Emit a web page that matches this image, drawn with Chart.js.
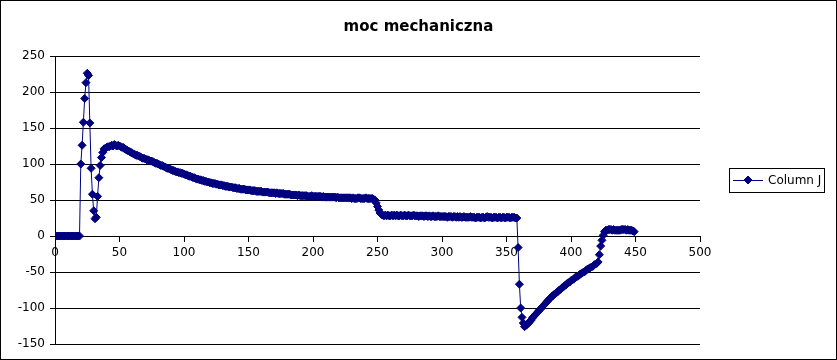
<!DOCTYPE html>
<html>
<head>
<meta charset="utf-8">
<title>moc mechaniczna</title>
<script src="https://cdn.jsdelivr.net/npm/chart.js@4.4.1/dist/chart.umd.min.js"></script>
<style>
  html, body { margin: 0; padding: 0; background: #fff; }
  #wrap { width: 837px; height: 360px; position: relative; }
</style>
</head>
<body>
<div id="wrap"><canvas id="chart" width="837" height="360"></canvas></div>
<script>
// ---- dane ----
const chartTitle = 'moc mechaniczna';
const seriesName = 'Column J';
const xTicks = [0, 50, 100, 150, 200, 250, 300, 350, 400, 450, 500];
const yTicks = [-150, -100, -50, 0, 50, 100, 150, 200, 250];

const xValues = [
  0,1,2,3,4,5,6,7,8,9,
  10,11,12,13,14,15,16,17,18,19,
  20,21,22,23,24,25,26,27,28,29,
  30,31,32,33,34,35,36,37,38,39,
  40,41,42,43,44,45,46,47,48,49,
  50,51,52,53,54,55,56,57,58,59,
  60,61,62,63,64,65,66,67,68,69,
  70,71,72,73,74,75,76,77,78,79,
  80,81,82,83,84,85,86,87,88,89,
  90,91,92,93,94,95,96,97,98,99,
  100,101,102,103,104,105,106,107,108,109,
  110,111,112,113,114,115,116,117,118,119,
  120,121,122,123,124,125,126,127,128,129,
  130,131,132,133,134,135,136,137,138,139,
  140,141,142,143,144,145,146,147,148,149,
  150,151,152,153,154,155,156,157,158,159,
  160,161,162,163,164,165,166,167,168,169,
  170,171,172,173,174,175,176,177,178,179,
  180,181,182,183,184,185,186,187,188,189,
  190,191,192,193,194,195,196,197,198,199,
  200,201,202,203,204,205,206,207,208,209,
  210,211,212,213,214,215,216,217,218,219,
  220,221,222,223,224,225,226,227,228,229,
  230,231,232,233,234,235,236,237,238,239,
  240,241,242,243,244,245,246,247,248,249,
  250,251,252,253,254,255,256,257,258,259,
  260,261,262,263,264,265,266,267,268,269,
  270,271,272,273,274,275,276,277,278,279,
  280,281,282,283,284,285,286,287,288,289,
  290,291,292,293,294,295,296,297,298,299,
  300,301,302,303,304,305,306,307,308,309,
  310,311,312,313,314,315,316,317,318,319,
  320,321,322,323,324,325,326,327,328,329,
  330,331,332,333,334,335,336,337,338,339,
  340,341,342,343,344,345,346,347,348,349,
  350,351,352,353,354,355,356,357,358,359,
  360,361,362,363,364,365,366,367,368,369,
  370,371,372,373,374,375,376,377,378,379,
  380,381,382,383,384,385,386,387,388,389,
  390,391,392,393,394,395,396,397,398,399,
  400,401,402,403,404,405,406,407,408,409,
  410,411,412,413,414,415,416,417,418,419,
  420,421,422,423,424,425,426,427,428,429,
  430,431,432,433,434,435,436,437,438,439,
  440,441,442,443,444,445,446,447,448,449
];

const yValues = [
  0,0,0,0,0,0,0,0,0,0,
  0,0,0,0,0,0,0,0,0,0,
  100,126,158,191,213,226,223,157,94,58,
  35,24,26,55,81,98,109,116,121,122,
  123,124,124,125,126,125,127,126,125,126,
  125,124,123,123,121,120,119,118,117,116,
  115,114,113,112,112,111,110,109,108,108,
  107,106,106,105,104,104,103,102,101,101,
  100,99,98,98,97,96,95,94,94,93,
  92,91,91,90,89,89,88,88,87,87,
  86,85,85,84,83,83,82,81,81,80,
  79,79,78,78,77,77,76,76,75,75,
  74,74,73,73,73,72,72,71,71,71,
  70,70,69,69,69,68,68,68,67,67,
  67,66,66,66,65,65,65,65,64,64,
  64,64,63,63,63,63,62,62,62,62,
  62,61,61,61,61,61,60,60,60,60,
  60,59,60,59,59,59,59,59,58,58,
  58,58,58,57,57,57,57,57,56,57,
  56,56,56,56,56,56,55,55,55,56,
  55,55,55,55,55,55,55,54,55,54,
  54,54,54,54,54,54,54,54,53,54,
  53,53,53,53,53,53,53,53,53,53,
  52,53,52,52,52,53,53,52,52,52,
  52,53,52,52,52,52,52,51,50,46,
  41,36,32,30,29,28,29,28,29,28,
  28,29,28,29,28,29,28,28,29,28,
  28,29,28,28,29,28,28,28,29,28,
  28,28,27,28,28,28,27,28,28,27,
  28,27,27,28,27,27,27,28,27,27,
  27,27,27,27,26,27,27,27,26,27,
  27,26,27,26,27,26,26,27,26,26,
  26,26,27,26,26,26,25,26,26,26,
  25,26,26,25,26,27,26,26,26,25,
  26,26,26,25,26,26,25,26,26,25,
  26,26,26,25,26,26,26,25,25,-16,
  -67,-100,-113,-121,-126,-124,-123,-121,-119,-117,
  -114,-112,-110,-108,-106,-104,-102,-100,-98,-96,
  -94,-92,-90,-88,-86,-84,-83,-81,-80,-78,
  -77,-75,-74,-72,-71,-69,-68,-66,-65,-64,
  -62,-61,-60,-58,-57,-56,-55,-53,-52,-51,
  -50,-49,-47,-46,-45,-44,-43,-42,-40,-39,
  -38,-36,-26,-14,-6,1,6,8,8,9,
  9,9,8,9,8,8,8,8,8,9,
  9,9,9,8,9,8,8,8,7,6
];

const lineColor = '#000080';
const fontFamily = '"DejaVu Sans", "Liberation Sans", sans-serif';

Chart.defaults.font.family = fontFamily;
Chart.defaults.color = '#000';

// ramka wokół całego wykresu
const framePlugin = {
    id: 'frame',
    afterDraw(chart) {
        const ctx = chart.ctx;
        ctx.save();
        ctx.strokeStyle = '#000';
        ctx.lineWidth = 1;
        ctx.strokeRect(0.5, 0.5, chart.width - 1, chart.height - 1);
        ctx.restore();
    }
};

// tytuł wyśrodkowany na całej szerokości (nie tylko nad obszarem wykresu)
const titlePlugin = {
    id: 'centerTitle',
    afterDraw(chart) {
        const ctx = chart.ctx;
        ctx.save();
        ctx.fillStyle = '#000';
        ctx.font = 'bold 15px ' + fontFamily;
        ctx.textAlign = 'center';
        ctx.textBaseline = 'middle';
        ctx.fillText(chartTitle, chart.width / 2, 27);
        ctx.restore();
    }
};

// legenda w ramce (linia + romb + tekst)
const legendBoxPlugin = {
    id: 'legendBox',
    afterDraw(chart) {
        const ctx = chart.ctx;
        const ds = chart.data.datasets[0];
        const left = chart.chartArea.right + 29;
        const cy = Math.round(chart.height / 2);
        const w = 95, h = 24;
        ctx.save();
        ctx.strokeStyle = '#000';
        ctx.lineWidth = 1;
        ctx.strokeRect(left + 0.5, cy - h / 2 + 0.5, w, h);

        ctx.strokeStyle = ds.borderColor;
        ctx.beginPath();
        ctx.moveTo(left + 4, cy + 0.5);
        ctx.lineTo(left + 34, cy + 0.5);
        ctx.stroke();

        const mx = left + 19, r = 4;
        ctx.fillStyle = ds.backgroundColor;
        ctx.beginPath();
        ctx.moveTo(mx, cy - r);
        ctx.lineTo(mx + r, cy);
        ctx.lineTo(mx, cy + r);
        ctx.lineTo(mx - r, cy);
        ctx.closePath();
        ctx.fill();
        ctx.stroke();

        ctx.fillStyle = '#000';
        ctx.font = '12px ' + fontFamily;
        ctx.textBaseline = 'middle';
        ctx.textAlign = 'left';
        ctx.fillText(ds.label, left + 39, cy + 1);
        ctx.restore();
    }
};

const points = xValues.map((x, i) => ({ x: x, y: yValues[i] }));

new Chart(document.getElementById('chart'), {
    type: 'scatter',
    data: {
        datasets: [{
            label: seriesName,
            data: points,
            showLine: true,
            borderColor: lineColor,
            backgroundColor: lineColor,
            borderWidth: 1,
            pointStyle: 'rectRot',
            pointRadius: 4,
            pointHoverRadius: 4,
            pointBorderWidth: 1,
            tension: 0
        }]
    },
    options: {
        responsive: false,
        animation: false,
        devicePixelRatio: 1,
        layout: { padding: { left: 0, right: 137, top: 56, bottom: 16 } },
        plugins: {
            legend: { display: false },
            tooltip: { enabled: false },
            title: { display: false }
        },
        scales: {
            x: {
                type: 'linear',
                position: { y: 0 },
                min: xTicks[0],
                max: xTicks[xTicks.length - 1],
                afterBuildTicks: s => { s.ticks = xTicks.map(v => ({ value: v })); },
                afterFit: s => { s.height = 0; },
                grid: { drawOnChartArea: false, drawTicks: true, tickLength: 5, color: '#000' },
                border: { display: true, color: '#000' },
                ticks: { color: '#000', font: { size: 12 }, padding: 5, maxRotation: 0 }
            },
            y: {
                min: yTicks[0],
                max: yTicks[yTicks.length - 1],
                afterBuildTicks: s => { s.ticks = yTicks.map(v => ({ value: v })); },
                afterFit: s => { s.width = 55; },
                grid: { color: '#000', tickLength: 5 },
                border: { display: true, color: '#000' },
                ticks: { color: '#000', font: { size: 12 }, padding: 5 }
            }
        }
    },
    plugins: [framePlugin, titlePlugin, legendBoxPlugin]
});
</script>
</body>
</html>
